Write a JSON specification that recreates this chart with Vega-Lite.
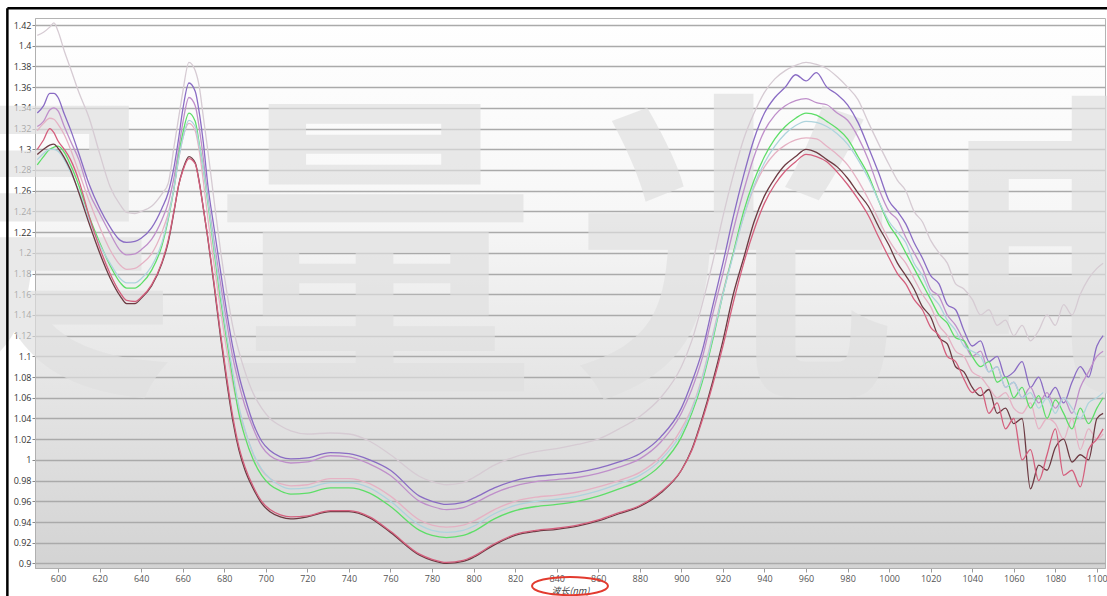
{
"$schema": "https://vega.github.io/schema/vega-lite/v6.json",
"width": 1070,
"height": 550,
"autosize": "none",
"padding": {"left": 35, "top": 18, "right": 2, "bottom": 28},
"background": "#ffffff",
"config": {
  "font": "Open Sans",
  "view": {"stroke": "#b4b4b4", "strokeWidth": 1, "fill": {"gradient": "linear", "x1": 0, "y1": 0, "x2": 0, "y2": 1, "stops": [{"offset": 0, "color": "#ffffff"}, {"offset": 0.35, "color": "#f7f7f7"}, {"offset": 0.65, "color": "#e6e6e6"}, {"offset": 1, "color": "#d3d3d3"}]}}
},
"resolve": {"axis": {"x": "independent", "y": "independent"}},
"layer": [
  {"data": {"values": [{}]},
   "mark": {"type": "text", "text": "昊", "font": "Noto Sans CJK SC", "fontSize": 325, "fontWeight": "bold", "color": "#e0e0e0", "opacity": 0.68, "baseline": "middle", "align": "center"},
   "encoding": {"x": {"datum": 579.3, "type": "quantitative", "scale": {"domain": [588.9, 1103.9], "nice": false, "zero": false}, "axis": null}, "y": {"datum": 1.1814, "type": "quantitative", "scale": {"domain": [0.8956, 1.4268], "nice": false, "zero": false}, "axis": null}}},
  {"data": {"values": [{}]},
   "mark": {"type": "text", "text": "量", "font": "Noto Sans CJK SC", "fontSize": 325, "fontWeight": "bold", "color": "#e0e0e0", "opacity": 0.68, "baseline": "middle", "align": "center"},
   "encoding": {"x": {"datum": 752.5, "type": "quantitative", "scale": {"domain": [588.9, 1103.9], "nice": false, "zero": false}, "axis": null}, "y": {"datum": 1.1814, "type": "quantitative", "scale": {"domain": [0.8956, 1.4268], "nice": false, "zero": false}, "axis": null}}},
  {"data": {"values": [{}]},
   "mark": {"type": "text", "text": "光", "font": "Noto Sans CJK SC", "fontSize": 325, "fontWeight": "bold", "color": "#e0e0e0", "opacity": 0.68, "baseline": "middle", "align": "center"},
   "encoding": {"x": {"datum": 925.8, "type": "quantitative", "scale": {"domain": [588.9, 1103.9], "nice": false, "zero": false}, "axis": null}, "y": {"datum": 1.1814, "type": "quantitative", "scale": {"domain": [0.8956, 1.4268], "nice": false, "zero": false}, "axis": null}}},
  {"data": {"values": [{}]},
   "mark": {"type": "text", "text": "电", "font": "Noto Sans CJK SC", "fontSize": 325, "fontWeight": "bold", "color": "#e0e0e0", "opacity": 0.68, "baseline": "middle", "align": "center"},
   "encoding": {"x": {"datum": 1099.0, "type": "quantitative", "scale": {"domain": [588.9, 1103.9], "nice": false, "zero": false}, "axis": null}, "y": {"datum": 1.1814, "type": "quantitative", "scale": {"domain": [0.8956, 1.4268], "nice": false, "zero": false}, "axis": null}}},
  {
    "data": {"values": [
{"w":590,"A":1.41,"B":1.335,"C":1.322,"D":1.318,"E":1.285,"F":1.29,"G":1.295,"H":1.3},
{"w":593,"A":1.413,"B":1.342,"C":1.327,"D":1.325,"E":1.293,"F":1.296,"G":1.3,"H":1.309},
{"w":596,"A":1.418,"B":1.354,"C":1.338,"D":1.33,"E":1.3,"F":1.3,"G":1.304,"H":1.32},
{"w":598,"A":1.422,"B":1.354,"C":1.34,"D":1.329,"E":1.302,"F":1.3,"G":1.305,"H":1.316},
{"w":600,"A":1.414,"B":1.35,"C":1.337,"D":1.324,"E":1.303,"F":1.298,"G":1.301,"H":1.308},
{"w":603,"A":1.395,"B":1.334,"C":1.322,"D":1.314,"E":1.297,"F":1.29,"G":1.292,"H":1.3},
{"w":606,"A":1.378,"B":1.319,"C":1.308,"D":1.3,"E":1.285,"F":1.278,"G":1.28,"H":1.29},
{"w":610,"A":1.355,"B":1.296,"C":1.29,"D":1.278,"E":1.265,"F":1.26,"G":1.258,"H":1.27},
{"w":615,"A":1.33,"B":1.266,"C":1.258,"D":1.25,"E":1.235,"F":1.232,"G":1.228,"H":1.235},
{"w":620,"A":1.296,"B":1.243,"C":1.238,"D":1.225,"E":1.21,"F":1.208,"G":1.2,"H":1.205},
{"w":625,"A":1.264,"B":1.225,"C":1.219,"D":1.203,"E":1.188,"F":1.19,"G":1.176,"H":1.18},
{"w":630,"A":1.246,"B":1.212,"C":1.202,"D":1.188,"E":1.171,"F":1.175,"G":1.158,"H":1.161},
{"w":633,"A":1.239,"B":1.21,"C":1.198,"D":1.184,"E":1.166,"F":1.171,"G":1.151,"H":1.154},
{"w":637,"A":1.238,"B":1.211,"C":1.199,"D":1.185,"E":1.166,"F":1.171,"G":1.151,"H":1.153},
{"w":640,"A":1.24,"B":1.214,"C":1.203,"D":1.189,"E":1.17,"F":1.175,"G":1.156,"H":1.157},
{"w":645,"A":1.245,"B":1.224,"C":1.213,"D":1.199,"E":1.183,"F":1.187,"G":1.168,"H":1.169},
{"w":650,"A":1.257,"B":1.243,"C":1.232,"D":1.22,"E":1.207,"F":1.21,"G":1.19,"H":1.191},
{"w":653,"A":1.267,"B":1.258,"C":1.248,"D":1.238,"E":1.232,"F":1.234,"G":1.21,"H":1.212},
{"w":656,"A":1.305,"B":1.285,"C":1.275,"D":1.265,"E":1.265,"F":1.265,"G":1.242,"H":1.243},
{"w":658,"A":1.33,"B":1.31,"C":1.3,"D":1.29,"E":1.293,"F":1.29,"G":1.265,"H":1.265},
{"w":660,"A":1.355,"B":1.338,"C":1.325,"D":1.31,"E":1.315,"F":1.31,"G":1.28,"H":1.279},
{"w":663,"A":1.384,"B":1.364,"C":1.35,"D":1.325,"E":1.335,"F":1.328,"G":1.293,"H":1.291},
{"w":666,"A":1.376,"B":1.356,"C":1.342,"D":1.318,"E":1.327,"F":1.322,"G":1.287,"H":1.286},
{"w":668,"A":1.36,"B":1.335,"C":1.32,"D":1.298,"E":1.305,"F":1.303,"G":1.268,"H":1.267},
{"w":670,"A":1.33,"B":1.305,"C":1.29,"D":1.268,"E":1.28,"F":1.28,"G":1.242,"H":1.242},
{"w":672,"A":1.3,"B":1.267,"C":1.255,"D":1.235,"E":1.25,"F":1.252,"G":1.215,"H":1.216},
{"w":675,"A":1.252,"B":1.225,"C":1.212,"D":1.19,"E":1.203,"F":1.207,"G":1.17,"H":1.172},
{"w":678,"A":1.205,"B":1.185,"C":1.173,"D":1.148,"E":1.158,"F":1.163,"G":1.122,"H":1.125},
{"w":681,"A":1.165,"B":1.145,"C":1.135,"D":1.108,"E":1.118,"F":1.123,"G":1.078,"H":1.082},
{"w":684,"A":1.13,"B":1.11,"C":1.1,"D":1.075,"E":1.08,"F":1.086,"G":1.039,"H":1.043},
{"w":687,"A":1.105,"B":1.082,"C":1.074,"D":1.048,"E":1.045,"F":1.052,"G":1.01,"H":1.013},
{"w":690,"A":1.085,"B":1.06,"C":1.052,"D":1.028,"E":1.022,"F":1.029,"G":0.99,"H":0.993},
{"w":694,"A":1.064,"B":1.035,"C":1.03,"D":1.005,"E":1.0,"F":1.006,"G":0.972,"H":0.974},
{"w":698,"A":1.05,"B":1.018,"C":1.013,"D":0.99,"E":0.985,"F":0.991,"G":0.958,"H":0.96},
{"w":702,"A":1.04,"B":1.009,"C":1.004,"D":0.982,"E":0.976,"F":0.982,"G":0.95,"H":0.952},
{"w":707,"A":1.033,"B":1.003,"C":0.999,"D":0.977,"E":0.97,"F":0.975,"G":0.945,"H":0.947},
{"w":712,"A":1.028,"B":1.001,"C":0.997,"D":0.975,"E":0.967,"F":0.972,"G":0.943,"H":0.945},
{"w":720,"A":1.025,"B":1.002,"C":0.998,"D":0.976,"E":0.968,"F":0.973,"G":0.945,"H":0.946},
{"w":731,"A":1.026,"B":1.007,"C":1.004,"D":0.982,"E":0.973,"F":0.978,"G":0.95,"H":0.951},
{"w":740,"A":1.025,"B":1.006,"C":1.003,"D":0.982,"E":0.973,"F":0.978,"G":0.95,"H":0.951},
{"w":750,"A":1.018,"B":1.0,"C":0.996,"D":0.977,"E":0.968,"F":0.973,"G":0.944,"H":0.945},
{"w":760,"A":1.005,"B":0.99,"C":0.985,"D":0.965,"E":0.955,"F":0.96,"G":0.93,"H":0.931},
{"w":774,"A":0.984,"B":0.965,"C":0.96,"D":0.942,"E":0.932,"F":0.937,"G":0.908,"H":0.909},
{"w":780,"A":0.979,"B":0.96,"C":0.955,"D":0.937,"E":0.927,"F":0.932,"G":0.903,"H":0.904},
{"w":787,"A":0.976,"B":0.957,"C":0.952,"D":0.935,"E":0.925,"F":0.93,"G":0.9,"H":0.901},
{"w":795,"A":0.978,"B":0.959,"C":0.954,"D":0.937,"E":0.927,"F":0.932,"G":0.902,"H":0.903},
{"w":800,"A":0.983,"B":0.963,"C":0.958,"D":0.941,"E":0.931,"F":0.936,"G":0.906,"H":0.907},
{"w":810,"A":0.995,"B":0.973,"C":0.968,"D":0.952,"E":0.943,"F":0.948,"G":0.918,"H":0.919},
{"w":820,"A":1.003,"B":0.98,"C":0.975,"D":0.96,"E":0.951,"F":0.956,"G":0.927,"H":0.928},
{"w":830,"A":1.008,"B":0.984,"C":0.979,"D":0.964,"E":0.955,"F":0.96,"G":0.931,"H":0.932},
{"w":840,"A":1.011,"B":0.986,"C":0.981,"D":0.966,"E":0.957,"F":0.962,"G":0.933,"H":0.934},
{"w":850,"A":1.015,"B":0.988,"C":0.983,"D":0.969,"E":0.96,"F":0.965,"G":0.936,"H":0.937},
{"w":860,"A":1.02,"B":0.992,"C":0.987,"D":0.974,"E":0.965,"F":0.97,"G":0.941,"H":0.942},
{"w":870,"A":1.03,"B":0.998,"C":0.993,"D":0.98,"E":0.972,"F":0.977,"G":0.948,"H":0.949},
{"w":880,"A":1.042,"B":1.006,"C":1.001,"D":0.988,"E":0.98,"F":0.985,"G":0.955,"H":0.956},
{"w":890,"A":1.06,"B":1.022,"C":1.017,"D":1.003,"E":0.995,"F":1.0,"G":0.968,"H":0.969},
{"w":900,"A":1.09,"B":1.05,"C":1.045,"D":1.03,"E":1.022,"F":1.026,"G":0.99,"H":0.99},
{"w":905,"A":1.115,"B":1.075,"C":1.068,"D":1.05,"E":1.045,"F":1.048,"G":1.01,"H":1.009},
{"w":910,"A":1.15,"B":1.105,"C":1.098,"D":1.08,"E":1.075,"F":1.078,"G":1.04,"H":1.038},
{"w":915,"A":1.19,"B":1.148,"C":1.14,"D":1.12,"E":1.115,"F":1.118,"G":1.075,"H":1.072},
{"w":920,"A":1.235,"B":1.19,"C":1.18,"D":1.162,"E":1.16,"F":1.16,"G":1.115,"H":1.11},
{"w":925,"A":1.275,"B":1.235,"C":1.222,"D":1.2,"E":1.2,"F":1.198,"G":1.16,"H":1.152},
{"w":930,"A":1.31,"B":1.275,"C":1.26,"D":1.235,"E":1.24,"F":1.235,"G":1.195,"H":1.19},
{"w":935,"A":1.335,"B":1.31,"C":1.293,"D":1.263,"E":1.27,"F":1.265,"G":1.23,"H":1.222},
{"w":940,"A":1.355,"B":1.335,"C":1.318,"D":1.283,"E":1.293,"F":1.287,"G":1.255,"H":1.248},
{"w":945,"A":1.368,"B":1.35,"C":1.333,"D":1.296,"E":1.31,"F":1.303,"G":1.272,"H":1.266},
{"w":950,"A":1.376,"B":1.36,"C":1.342,"D":1.304,"E":1.322,"F":1.315,"G":1.285,"H":1.279},
{"w":955,"A":1.381,"B":1.372,"C":1.347,"D":1.309,"E":1.33,"F":1.323,"G":1.293,"H":1.288},
{"w":960,"A":1.384,"B":1.366,"C":1.349,"D":1.311,"E":1.335,"F":1.327,"G":1.3,"H":1.295},
{"w":965,"A":1.382,"B":1.374,"C":1.345,"D":1.31,"E":1.333,"F":1.326,"G":1.297,"H":1.293},
{"w":970,"A":1.378,"B":1.36,"C":1.343,"D":1.303,"E":1.327,"F":1.322,"G":1.29,"H":1.288},
{"w":975,"A":1.37,"B":1.353,"C":1.335,"D":1.295,"E":1.32,"F":1.315,"G":1.283,"H":1.278},
{"w":980,"A":1.36,"B":1.343,"C":1.328,"D":1.285,"E":1.31,"F":1.305,"G":1.272,"H":1.266},
{"w":985,"A":1.348,"B":1.326,"C":1.312,"D":1.27,"E":1.293,"F":1.29,"G":1.258,"H":1.252},
{"w":990,"A":1.326,"B":1.302,"C":1.29,"D":1.252,"E":1.275,"F":1.272,"G":1.245,"H":1.236},
{"w":995,"A":1.305,"B":1.277,"C":1.262,"D":1.232,"E":1.25,"F":1.25,"G":1.225,"H":1.215},
{"w":1000,"A":1.285,"B":1.25,"C":1.24,"D":1.212,"E":1.227,"F":1.23,"G":1.207,"H":1.195},
{"w":1004,"A":1.27,"B":1.24,"C":1.232,"D":1.2,"E":1.215,"F":1.22,"G":1.19,"H":1.18},
{"w":1008,"A":1.26,"B":1.228,"C":1.215,"D":1.19,"E":1.2,"F":1.21,"G":1.178,"H":1.17},
{"w":1012,"A":1.24,"B":1.21,"C":1.2,"D":1.175,"E":1.185,"F":1.19,"G":1.165,"H":1.155},
{"w":1016,"A":1.23,"B":1.195,"C":1.185,"D":1.16,"E":1.17,"F":1.178,"G":1.148,"H":1.145},
{"w":1020,"A":1.212,"B":1.178,"C":1.165,"D":1.148,"E":1.155,"F":1.16,"G":1.138,"H":1.128},
{"w":1024,"A":1.2,"B":1.17,"C":1.158,"D":1.13,"E":1.14,"F":1.15,"G":1.118,"H":1.12},
{"w":1028,"A":1.19,"B":1.15,"C":1.14,"D":1.12,"E":1.132,"F":1.135,"G":1.112,"H":1.1},
{"w":1032,"A":1.17,"B":1.145,"C":1.13,"D":1.105,"E":1.118,"F":1.125,"G":1.09,"H":1.095},
{"w":1036,"A":1.165,"B":1.125,"C":1.115,"D":1.1,"E":1.115,"F":1.11,"G":1.085,"H":1.078},
{"w":1040,"A":1.155,"B":1.11,"C":1.1,"D":1.085,"E":1.1,"F":1.105,"G":1.07,"H":1.065},
{"w":1044,"A":1.14,"B":1.115,"C":1.105,"D":1.08,"E":1.09,"F":1.1,"G":1.062,"H":1.07},
{"w":1048,"A":1.145,"B":1.095,"C":1.085,"D":1.07,"E":1.095,"F":1.085,"G":1.068,"H":1.045},
{"w":1052,"A":1.13,"B":1.1,"C":1.09,"D":1.06,"E":1.075,"F":1.09,"G":1.045,"H":1.055},
{"w":1056,"A":1.135,"B":1.08,"C":1.07,"D":1.065,"E":1.08,"F":1.07,"G":1.05,"H":1.03},
{"w":1060,"A":1.12,"B":1.085,"C":1.075,"D":1.05,"E":1.06,"F":1.075,"G":1.035,"H":1.04},
{"w":1064,"A":1.13,"B":1.095,"C":1.06,"D":1.045,"E":1.07,"F":1.06,"G":1.04,"H":1.0},
{"w":1068,"A":1.115,"B":1.07,"C":1.07,"D":1.055,"E":1.05,"F":1.065,"G":0.972,"H":1.01},
{"w":1072,"A":1.125,"B":1.08,"C":1.055,"D":1.03,"E":1.062,"F":1.05,"G":0.995,"H":0.98},
{"w":1076,"A":1.14,"B":1.06,"C":1.065,"D":1.04,"E":1.04,"F":1.06,"G":0.99,"H":1.005},
{"w":1080,"A":1.13,"B":1.07,"C":1.05,"D":1.035,"E":1.058,"F":1.045,"G":1.012,"H":1.03},
{"w":1084,"A":1.15,"B":1.055,"C":1.06,"D":1.02,"E":1.045,"F":1.06,"G":1.02,"H":0.985},
{"w":1088,"A":1.14,"B":1.075,"C":1.045,"D":1.04,"E":1.03,"F":1.05,"G":0.998,"H":0.99},
{"w":1092,"A":1.16,"B":1.09,"C":1.07,"D":1.01,"E":1.05,"F":1.04,"G":1.005,"H":0.974},
{"w":1096,"A":1.175,"B":1.08,"C":1.085,"D":1.03,"E":1.035,"F":1.055,"G":1.0,"H":1.01},
{"w":1100,"A":1.185,"B":1.11,"C":1.1,"D":1.02,"E":1.05,"F":1.06,"G":1.04,"H":1.02},
{"w":1103,"A":1.19,"B":1.12,"C":1.105,"D":1.025,"E":1.06,"F":1.065,"G":1.045,"H":1.03}
    ]},
    "transform": [{"fold": ["A", "B", "C", "D", "E", "F", "G", "H"], "as": ["s", "v"]}],
    "mark": {"type": "line", "strokeWidth": 1.3, "interpolate": "monotone"},
    "encoding": {
      "x": {"field": "w", "type": "quantitative", "scale": {"domain": [588.9, 1103.9], "nice": false, "zero": false},
        "title": "波长(nm)",
        "axis": {"values": [600, 620, 640, 660, 680, 700, 720, 740, 760, 780, 800, 820, 840, 860, 880, 900, 920, 940, 960, 980, 1000, 1020, 1040, 1060, 1080, 1100],
          "format": "d", "labelOverlap": false,
          "grid": false, "titleFont": "Noto Sans CJK SC", "titleFontSize": 9, "titleFontStyle": "italic", "titleFontWeight": "normal", "titleColor": "#444444", "titlePadding": 3,
          "labelFontSize": 9, "labelColor": "#555555", "labelPadding": 2, "labelFlush": false, "tickSize": 4, "tickColor": "#9a9a9a", "domainColor": "#b0b0b0"}},
      "y": {"field": "v", "type": "quantitative", "scale": {"domain": [0.8956, 1.4268], "nice": false, "zero": false},
        "title": null,
        "axis": {"values": [0.9, 0.92, 0.94, 0.96, 0.98, 1, 1.02, 1.04, 1.06, 1.08, 1.1, 1.12, 1.14, 1.16, 1.18, 1.2, 1.22, 1.24, 1.26, 1.28, 1.3, 1.32, 1.34, 1.36, 1.38, 1.4, 1.42],
          "format": ".3~g", "labelOverlap": false, "labelFontSize": 9, "labelColor": "#333333", "labelPadding": 1, "tickSize": 3, "tickColor": "#888888", "domainColor": "#b0b0b0",
          "grid": true, "gridColor": "#aaaaaa", "gridWidth": 1.6}},
      "color": {"field": "s", "type": "nominal", "legend": null,
        "scale": {"domain": ["A", "B", "C", "D", "E", "F", "G", "H"], "range": ["#d6cbd3", "#8a6cc4", "#bf8fca", "#e5b2c4", "#5ede68", "#aed4dd", "#6c3a42", "#d45f7d"]}}
    }
  },
  {"data": {"values": [{}]},
   "mark": {"type": "rule", "color": "#000000", "strokeWidth": 2.5},
   "encoding": {"x": {"datum": 575.6, "type": "quantitative", "scale": {"domain": [588.9, 1103.9], "nice": false, "zero": false}, "axis": null}, "y": {"datum": 1.4361, "type": "quantitative", "scale": {"domain": [0.8956, 1.4268], "nice": false, "zero": false}, "axis": null}, "y2": {"datum": 0.85}}},
  {"data": {"values": [{}]},
   "mark": {"type": "rule", "color": "#000000", "strokeWidth": 2.5},
   "encoding": {"x": {"datum": 575.6, "type": "quantitative", "scale": {"domain": [588.9, 1103.9], "nice": false, "zero": false}, "axis": null}, "x2": {"datum": 1106}, "y": {"datum": 1.4361, "type": "quantitative", "scale": {"domain": [0.8956, 1.4268], "nice": false, "zero": false}, "axis": null}}},
  {"data": {"values": [{}]},
   "mark": {"type": "point", "shape": "M -1 0 C -1 -0.1325 -0.5523 -0.24 0 -0.24 C 0.5523 -0.24 1 -0.1325 1 0 C 1 0.1325 0.5523 0.24 0 0.24 C -0.5523 0.24 -1 0.1325 -1 0 Z", "size": 5776, "filled": false, "stroke": "#e23a2e", "strokeWidth": 2, "opacity": 1},
   "encoding": {"x": {"datum": 846.4, "type": "quantitative", "scale": {"domain": [588.9, 1103.9], "nice": false, "zero": false}, "axis": null}, "y": {"datum": 0.8782, "type": "quantitative", "scale": {"domain": [0.8956, 1.4268], "nice": false, "zero": false}, "axis": null}}}
]
}
